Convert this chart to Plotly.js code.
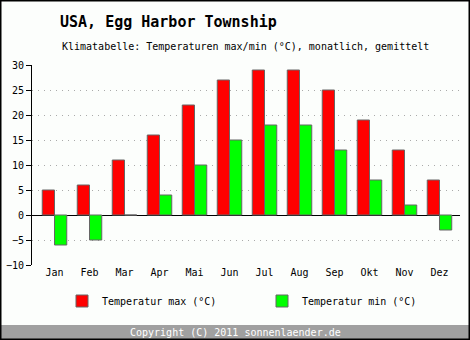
<!DOCTYPE html>
<html>
<head>
<meta charset="utf-8">
<script src="https://cdn.plot.ly/plotly-3.0.1.min.js"></script>
<style>
html,body{margin:0;padding:0;background:#fcfefc;}
#chart{width:470px;height:340px;}
</style>
</head>
<body>
<div id="chart"></div>
<script>
const months = ["Jan","Feb","Mar","Apr","Mai","Jun","Jul","Aug","Sep","Okt","Nov","Dez"];
const tempMax = [5, 6, 11, 16, 22, 27, 29, 29, 25, 19, 13, 7];
const tempMin = [-6, -5, 0, 4, 10, 15, 18, 18, 13, 7, 2, -3];
const seriesNames = ["Temperatur max (°C)", "Temperatur min (°C)"];
const titleText = "USA, Egg Harbor Township";
const subtitleText = "Klimatabelle: Temperaturen max/min (°C), monatlich, gemittelt";
const footerText = "Copyright (C) 2011 sonnenlaender.de";

const FONT = "DejaVu Sans Mono, Liberation Mono, monospace";
const W = 470, H = 340;
const L = 32, R = 10, T = 65, B = 75;
const pw = W - L - R, ph = H - T - B;
const px = x => (x - L) / pw;
const py = y => (H - B - y) / ph;

const traces = [
  {type: "bar", name: seriesNames[0], x: months.map((m,i)=>i), y: tempMax,
   marker: {color: "#ff0000", line: {color: "#666666", width: 1}}},
  {type: "bar", name: seriesNames[1], x: months.map((m,i)=>i), y: tempMin,
   marker: {color: "#00ff00", line: {color: "#666666", width: 1}}}
];

const layout = {
  width: W, height: H,
  margin: {l: L, r: R, t: T, b: B, pad: 0, autoexpand: false},
  paper_bgcolor: "#fcfefc", plot_bgcolor: "#fcfefc",
  font: {family: FONT, size: 10, color: "#000"},
  barmode: "group", bargap: 0.3, bargroupgap: 0,
  showlegend: true,
  legend: {orientation: "h", x: px(62), xanchor: "left", y: py(301), yanchor: "middle",
           entrywidth: 155, entrywidthmode: "pixels", bgcolor: "rgba(0,0,0,0)",
           font: {family: FONT, size: 10, color: "#000"}, itemclick: false},
  title: {text: "<b>" + titleText + "</b>", xref: "container", yref: "container",
          x: 60 / W, xanchor: "left", y: 1 - 22 / H, yanchor: "middle",
          font: {family: FONT, size: 15, color: "#000"}},
  xaxis: {range: [-0.643, 11.586], tickvals: months.map((m,i)=>i), ticktext: months,
          showgrid: false, showline: false, zeroline: false, ticks: "",
          tickfont: {family: FONT, size: 10, color: "#000"}, fixedrange: true},
  yaxis: {range: [-10, 30], dtick: 5, tick0: 0, showline: true, linecolor: "#000", linewidth: 1,
          ticks: "outside", ticklen: 5, tickcolor: "#000", tickwidth: 1,
          showgrid: true, gridcolor: "#aaaaaa", griddash: "1px,5px", gridwidth: 1,
          zeroline: true, zerolinecolor: "#000", zerolinewidth: 1,
          tickfont: {family: FONT, size: 10, color: "#000"}, fixedrange: true},
  shapes: [
    {type: "rect", xref: "paper", yref: "paper", x0: px(0), x1: px(W), y0: py(339), y1: py(325),
     fillcolor: "#a0a0a0", line: {width: 0}, layer: "below"},
    {type: "rect", xref: "paper", yref: "paper", x0: px(0), x1: px(W), y0: py(H), y1: py(0),
     fillcolor: "rgba(0,0,0,0)", line: {color: "#000", width: 3}}
  ],
  annotations: [
    {text: subtitleText, xref: "paper", yref: "paper", x: px(60), y: py(47),
     xanchor: "left", yanchor: "middle", showarrow: false,
     font: {family: FONT, size: 10, color: "#000"}},
    {text: footerText, xref: "paper", yref: "paper", x: px(W/2), y: py(332),
     xanchor: "center", yanchor: "middle", showarrow: false,
     font: {family: FONT, size: 10, color: "#ffffff"}}
  ]
};

Plotly.newPlot("chart", traces, layout, {displayModeBar: false, staticPlot: true});
</script>
</body>
</html>
